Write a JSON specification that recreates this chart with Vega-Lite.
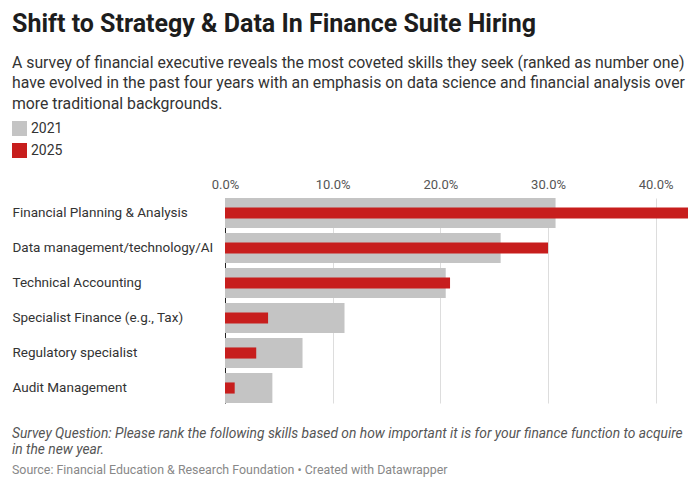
{
  "$schema": "https://vega.github.io/schema/vega-lite/v6.json",
  "padding": {"left": 12, "top": 12, "right": 12, "bottom": 5},
  "background": "white",
  "config": {
    "font": "Roboto",
    "view": {"stroke": null},
    "title": {"font": "Roboto", "subtitleFont": "Roboto"}
  },
  "title": {
    "text": "Shift to Strategy & Data In Finance Suite Hiring",
    "subtitle": [
      "A survey of financial executive reveals the most coveted skills they seek (ranked as number one)",
      "have evolved in the past four years with an emphasis on data science and financial analysis over",
      "more traditional backgrounds."
    ],
    "anchor": "start",
    "frame": "bounds",
    "fontSize": 25,
    "fontWeight": "bold",
    "color": "#1d1d1d",
    "subtitleFontSize": 15.8,
    "subtitleColor": "#333333",
    "subtitleLineHeight": 20.5,
    "subtitlePadding": 18.5,
    "offset": 9.5
  },
  "vconcat": [
    {
      "width": 463,
      "height": 205,
      "title": {
        "text": ["Survey Question: Please rank the following skills based on how important it is for your finance function to acquire", "in the new year."],
        "subtitle": "Source: Financial Education & Research Foundation • Created with Datawrapper",
        "orient": "bottom",
        "anchor": "start",
        "frame": "bounds",
        "fontSize": 13.8,
        "fontStyle": "italic",
        "fontWeight": "normal",
        "color": "#555555",
        "lineHeight": 15.5,
        "subtitleFontSize": 12.4,
        "subtitleColor": "#888888",
        "subtitlePadding": 8,
        "offset": 24
      },
      "data": {
        "values": [
          {"skill": "Financial Planning & Analysis", "year": "2021", "value": 0.307},
          {"skill": "Financial Planning & Analysis", "year": "2025", "value": 0.430},
          {"skill": "Data management/technology/AI", "year": "2021", "value": 0.256},
          {"skill": "Data management/technology/AI", "year": "2025", "value": 0.300},
          {"skill": "Technical Accounting", "year": "2021", "value": 0.205},
          {"skill": "Technical Accounting", "year": "2025", "value": 0.209},
          {"skill": "Specialist Finance (e.g., Tax)", "year": "2021", "value": 0.111},
          {"skill": "Specialist Finance (e.g., Tax)", "year": "2025", "value": 0.040},
          {"skill": "Regulatory specialist", "year": "2021", "value": 0.072},
          {"skill": "Regulatory specialist", "year": "2025", "value": 0.029},
          {"skill": "Audit Management", "year": "2021", "value": 0.044},
          {"skill": "Audit Management", "year": "2025", "value": 0.009}
        ]
      },
      "encoding": {
        "y": {
          "field": "skill",
          "type": "nominal",
          "sort": null,
          "scale": {"paddingInner": 0.143, "paddingOuter": 0},
          "axis": {
            "title": null,
            "ticks": false,
            "domain": true,
            "domainColor": "#222222",
            "domainWidth": 1,
            "labelAlign": "left",
            "labelPadding": 213,
            "labelFontSize": 13.5,
            "labelColor": "#333333",
            "labelLimit": 300
          }
        },
        "x": {
          "field": "value",
          "type": "quantitative",
          "scale": {"domain": [0, 0.43], "nice": false},
          "axis": {
            "orient": "top",
            "title": null,
            "format": ".1%",
            "values": [0, 0.1, 0.2, 0.3, 0.4],
            "grid": true,
            "gridColor": "#dddddd",
            "domain": false,
            "ticks": false,
            "labelPadding": 7,
            "labelFontSize": 13,
            "labelColor": "#555555",
            "labelFlush": false
          }
        },
        "color": {
          "field": "year",
          "type": "nominal",
          "scale": {"domain": ["2021", "2025"], "range": ["#c4c4c4", "#c71e1d"]},
          "legend": {
            "title": null,
            "orient": "none",
            "legendX": -213,
            "legendY": -77,
            "direction": "vertical",
            "symbolType": "square",
            "symbolSize": 225,
            "symbolStrokeWidth": 0,
            "symbolOpacity": 1,
            "labelFontSize": 14,
            "labelColor": "#333333",
            "labelOffset": 4,
            "rowPadding": 7
          }
        }
      },
      "layer": [
        {
          "transform": [{"filter": "datum.year === '2021'"}],
          "mark": {"type": "bar", "opacity": 1}
        },
        {
          "transform": [{"filter": "datum.year === '2025'"}],
          "mark": {"type": "bar", "opacity": 1, "height": {"band": 0.37}}
        }
      ]
    }
  ]
}
